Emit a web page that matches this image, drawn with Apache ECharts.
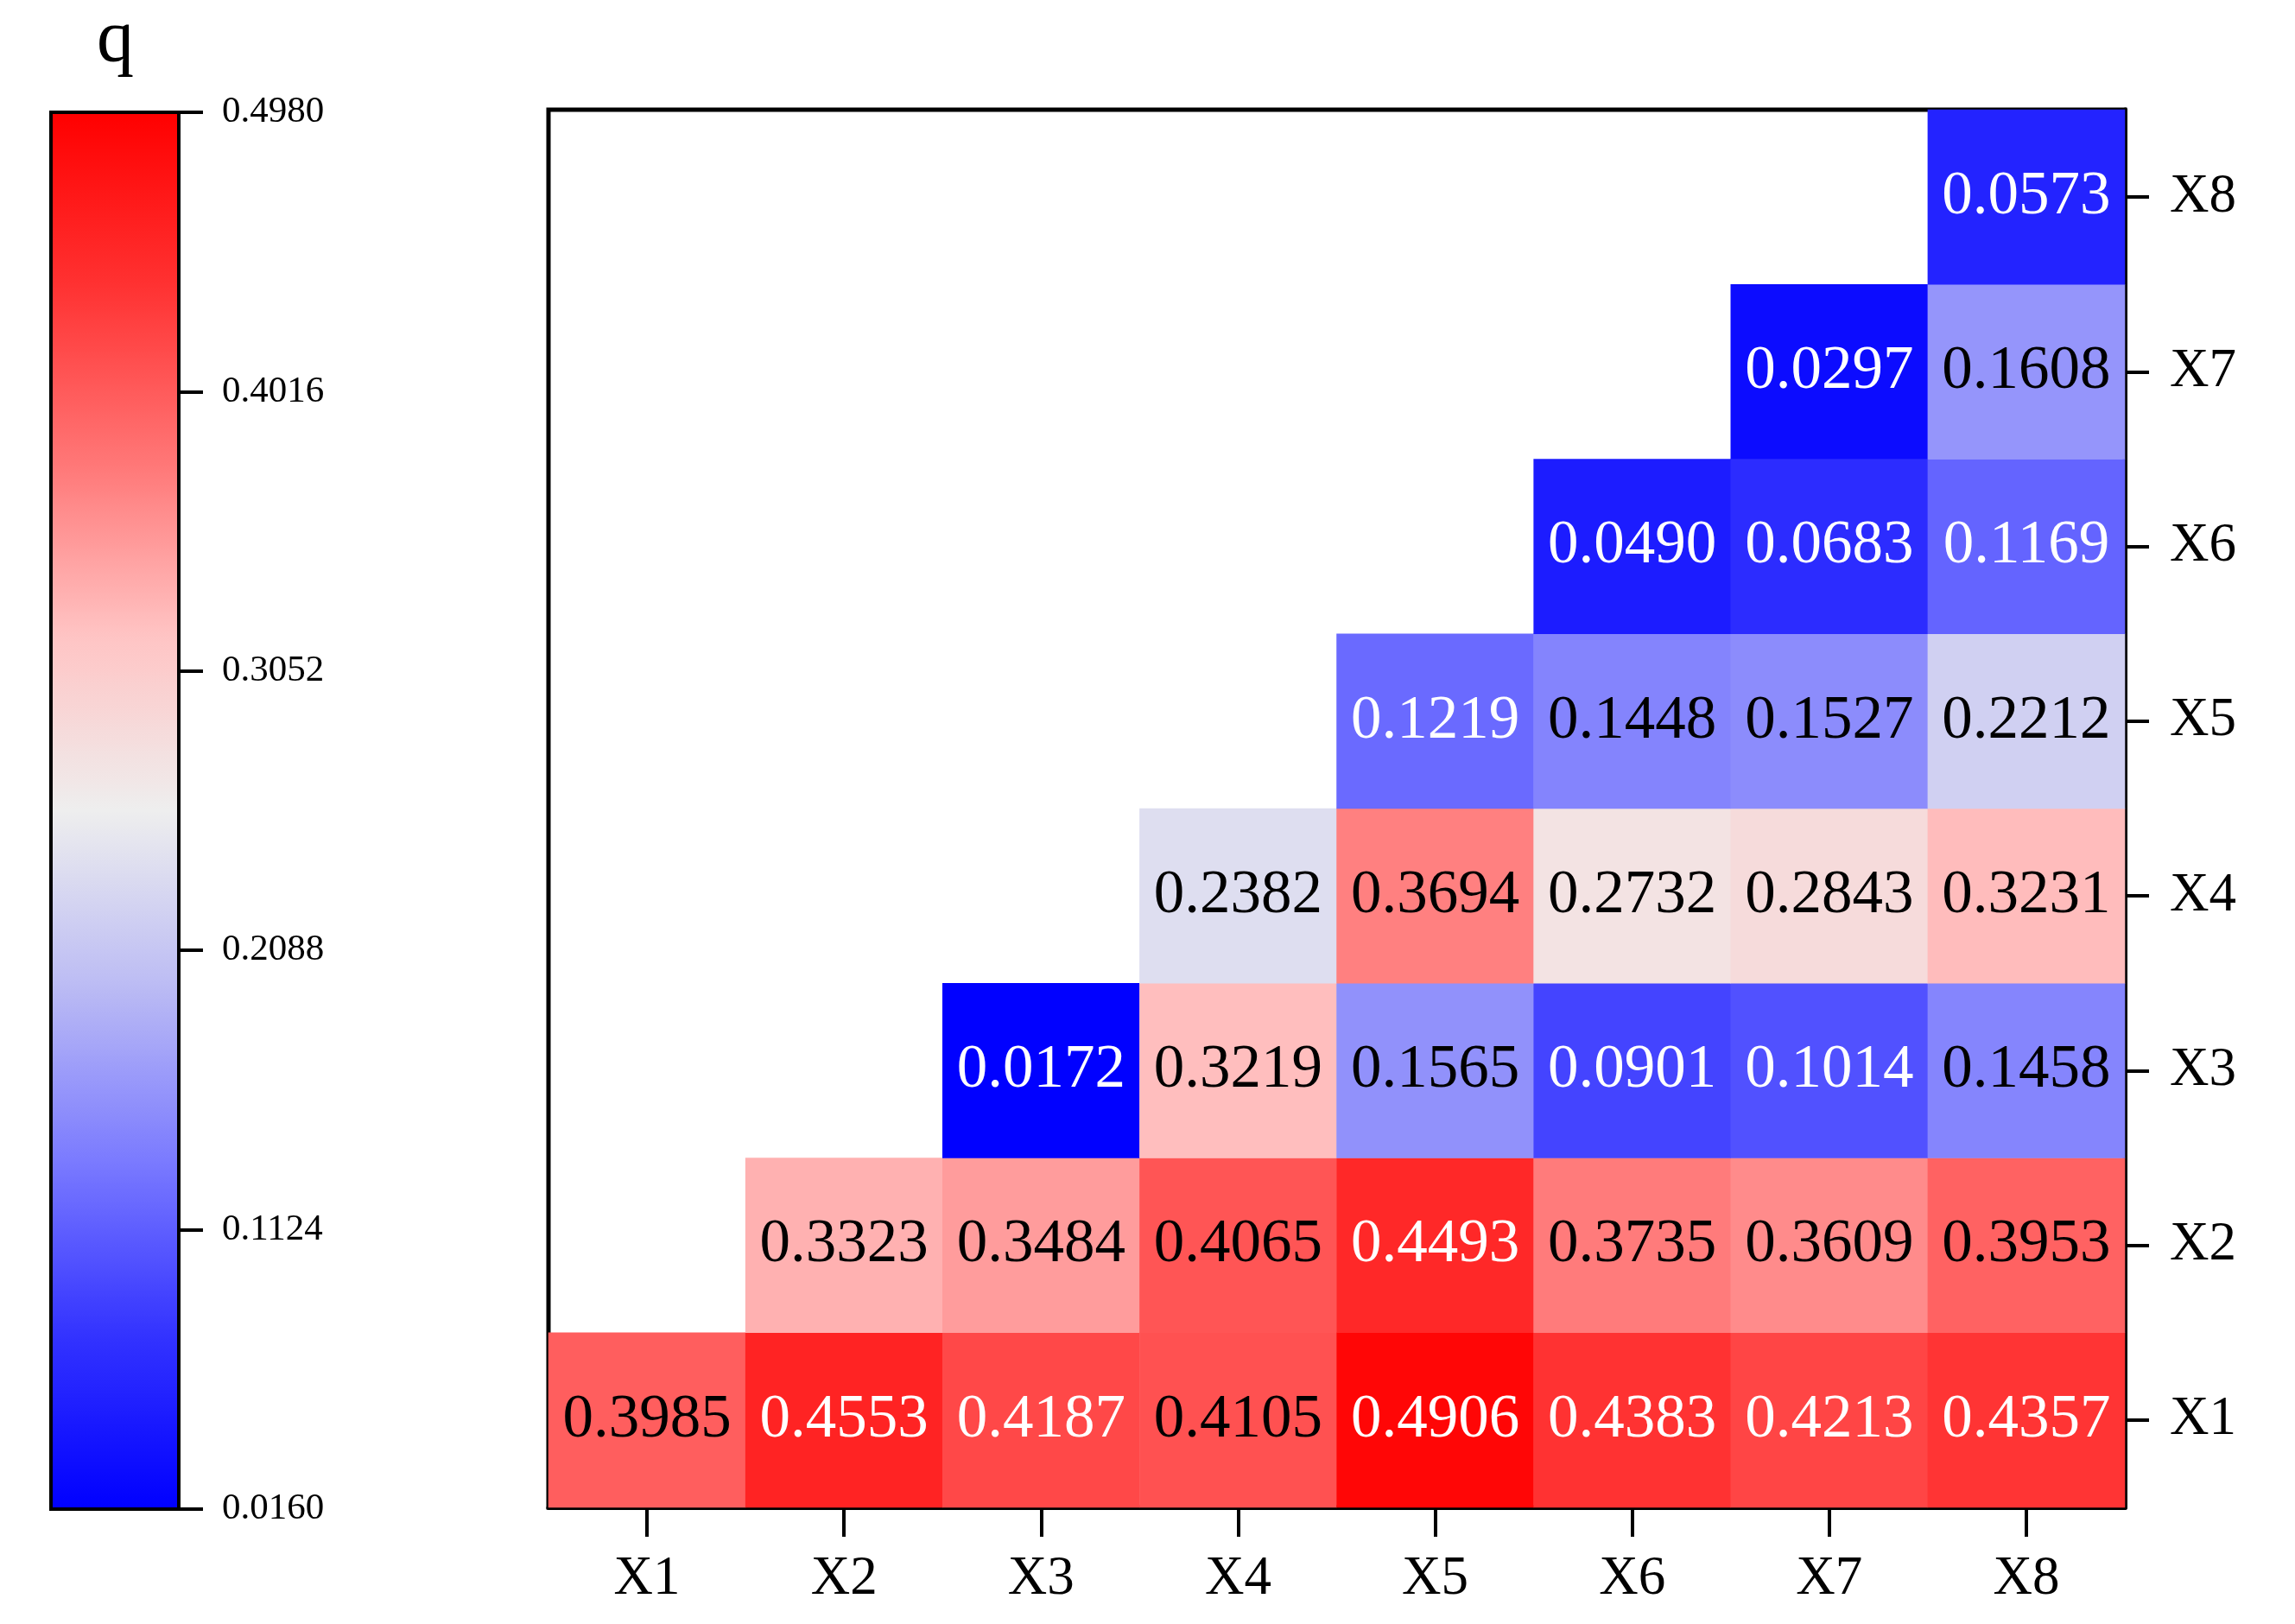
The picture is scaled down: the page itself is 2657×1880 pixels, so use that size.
<!DOCTYPE html>
<html>
<head>
<meta charset="utf-8">
<script src="https://cdn.jsdelivr.net/npm/echarts@6/dist/echarts.min.js"></script>
<style>
html,body{margin:0;padding:0;background:#fff;}
#c{width:2657px;height:1880px;}
</style>
</head>
<body>
<div id="c"></div>
<script>
// Categories
const factors = ['X1','X2','X3','X4','X5','X6','X7','X8'];
// Values per row (row Xi holds columns Xi..X8)
const rowX1 = [0.3985,0.4553,0.4187,0.4105,0.4906,0.4383,0.4213,0.4357];
const rowX2 = [0.3323,0.3484,0.4065,0.4493,0.3735,0.3609,0.3953];
const rowX3 = [0.0172,0.3219,0.1565,0.0901,0.1014,0.1458];
const rowX4 = [0.2382,0.3694,0.2732,0.2843,0.3231];
const rowX5 = [0.1219,0.1448,0.1527,0.2212];
const rowX6 = [0.0490,0.0683,0.1169];
const rowX7 = [0.0297,0.1608];
const rowX8 = [0.0573];
// Colour bar range and tick labels
const qMin = 0.0160, qMax = 0.4980;
const cbTicks = ['0.0160','0.1124','0.2088','0.3052','0.4016','0.4980'];
const rampColors = ['#0000ff','#3333ff','#7b7bff','#bcbcf4','#eeeeee','#ffc4c4','#ff7676','#ff3232','#ff0000'];

const rows = [rowX1,rowX2,rowX3,rowX4,rowX5,rowX6,rowX7,rowX8];
const data = [];
rows.forEach((r, ri) => {
  r.forEach((v, k) => {
    const ci = ri + k;
    const white = v > 0.415 || v < 0.13;
    data.push({value:[ci, ri, v], label:{color: white ? '#ffffff' : '#000000'}});
  });
});

const FONT = '"Liberation Serif", "DejaVu Serif", serif';
const chart = echarts.init(document.getElementById('c'), null, {renderer:'canvas'});
chart.setOption({
  backgroundColor:'#ffffff',
  animation:false,
  grid:[
    {left:635, top:127, width:1825, height:1618, show:true, borderColor:'#000', borderWidth:5, backgroundColor:'transparent'},
    {left:59, top:130, width:148, height:1617, show:true, borderColor:'#000', borderWidth:4, backgroundColor:'transparent', z:10}
  ],
  xAxis:[
    {type:'category', gridIndex:0, data:factors, position:'bottom',
     axisLine:{show:true, lineStyle:{color:'#000', width:5}},
     axisTick:{show:true, alignWithLabel:true, length:34, lineStyle:{color:'#000', width:4}},
     axisLabel:{fontFamily:FONT, fontSize:63, color:'#000', margin:52},
     splitLine:{show:false}},
    {type:'value', gridIndex:1, min:0, max:1, show:false}
  ],
  yAxis:[
    {type:'category', gridIndex:0, data:factors, position:'right',
     axisLine:{show:true, lineStyle:{color:'#000', width:5}},
     axisTick:{show:true, alignWithLabel:true, length:28, lineStyle:{color:'#000', width:4}},
     axisLabel:{fontFamily:FONT, fontSize:63, color:'#000', margin:52},
     splitLine:{show:false}},
    {type:'value', gridIndex:1, min:0, max:5, interval:1, position:'right', z:10,
     axisLine:{show:true, onZero:false, lineStyle:{color:'#000', width:4}},
     axisTick:{show:true, inside:false, length:28, lineStyle:{color:'#000', width:4}},
     axisLabel:{fontFamily:FONT, fontSize:43, color:'#000', margin:50, formatter:(v)=>cbTicks[Math.round(v)]},
     splitLine:{show:false}}
  ],
  visualMap:{
    type:'continuous', min:qMin, max:qMax, seriesIndex:0, calculable:false,
    orient:'vertical', left:59, top:130, itemWidth:148, itemHeight:1617, padding:0,
    text:['',''], showLabel:false,
    inRange:{color:rampColors}
  },
  graphic:[
    {type:'text', left:112, top:4, style:{text:'q', fontFamily:FONT, fontSize:86, fill:'#000'}}
  ],
  series:[
    {type:'heatmap', xAxisIndex:0, yAxisIndex:0, data:data,
     label:{show:true, fontFamily:FONT, fontSize:71, formatter:(p)=>p.value[2].toFixed(4)},
     itemStyle:{borderWidth:0},
     emphasis:{disabled:true}}
  ]
});
</script>
</body>
</html>
